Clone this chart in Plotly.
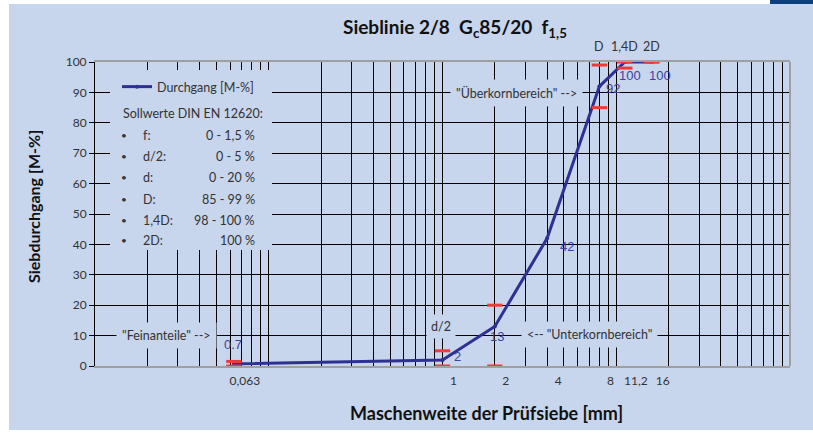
import math
import plotly.graph_objects as go

# ---------------- data ----------------
sieve_sizes = [0.063, 1, 2, 4, 8, 11.2, 16]
passing = [0.7, 2, 13, 42, 92, 100, 100]
tick_labels = ["0,063", "1", "2", "4", "8", "11,2", "16"]

spec_sizes = [0.063, 1, 2, 8, 11.2, 16]
spec_low = [0, 0, 0, 85, 98, 100]
spec_high = [1.5, 5, 20, 99, 100, 100]

key_sieve_names = ["D", "1,4D", "2D"]
key_sieve_sizes = [8, 11.2, 16]

spec_names = ["f:", "d/2:", "d:", "D:", "1,4D:", "2D:"]
spec_ranges = ["0 - 1,5 %", "0 - 5 %", "0 - 20 %", "85 - 99 %", "98 - 100 %", "100 %"]

# ---------------- style ----------------
W, H = 813, 439
L, R, T, B = 95, 23, 62, 73
PW, PH = W - L - R, H - T - B
BG = "#C7D5ED"
NAVY = "#2E3192"
LABEL = "#3E42A0"
RED = "#F03A3A"
TXT = "#333333"
FONT = "Lato, 'Open Sans', sans-serif"
SMALL = 12.5
# pixel offsets of the value labels relative to their points
label_dx = [-1, 15, 2, 20, 14, 5, 8]
label_dy = [19, 3, -10, -8, -2, -13, -13]


def px(x):
    return (x - L) / PW


def py(y):
    return (H - B - y) / PH


def note(text, x, y, xanchor="center", size=SMALL, **kw):
    d = dict(text=text, xref="paper", yref="paper", x=px(x), y=py(y),
             xanchor=xanchor, yanchor="middle", showarrow=False,
             font=dict(size=size, color=kw.pop("color", TXT)))
    d.update(kw)
    return d


fig = go.Figure()

fig.add_trace(go.Scatter(
    x=sieve_sizes, y=passing, mode="lines+markers",
    name="Durchgang [M-%]",
    line=dict(color=NAVY, width=3),
    marker=dict(size=4, color=NAVY),
    cliponaxis=False, xaxis="x", yaxis="y",
))

fig.add_trace(go.Scatter(
    x=spec_sizes + spec_sizes, y=spec_low + spec_high, mode="markers",
    marker=dict(symbol="line-ew", size=11, line=dict(color=RED, width=3)),
    showlegend=False, hoverinfo="skip", cliponaxis=False,
    xaxis="x2", yaxis="y",
))

shapes = [
    dict(type="rect", xref="paper", yref="paper", x0=px(9), x1=px(813), y0=py(430), y1=py(4),
         fillcolor=BG, line=dict(width=0), layer="below"),
    dict(type="rect", xref="paper", yref="paper", x0=px(770), x1=px(813), y0=py(4), y1=py(0),
         fillcolor="#0B3F7D", line=dict(width=0), layer="below"),
    dict(type="rect", xref="paper", yref="paper", x0=px(110), x1=px(272), y0=py(250), y1=py(70),
         fillcolor=BG, line=dict(width=0), layer="above"),
    dict(type="line", xref="paper", yref="paper", x0=1, x1=1, y0=0, y1=1,
         line=dict(color="#A0A0A0", width=2), layer="above"),
]

annotations = [
    note("<b>Sieblinie 2/8&nbsp;&nbsp;G<sub>c</sub>85/20&nbsp;&nbsp;f<sub>1,5</sub></b>",
         455, 28, size=19, color="#111111"),
    note("<b>Maschenweite der Prüfsiebe [mm]</b>", 486, 413, size=18, color="#111111"),
    note("<b>Siebdurchgang [M-%]</b>", 33, 207, size=16, color="#111111", textangle=-90),
    note("\"Feinanteile\" -->", 166, 335, bgcolor=BG, borderpad=5),
    note("d/2", 441, 326, bgcolor=BG, borderpad=4),
    note("<-- \"Unterkornbereich\"", 589, 334, bgcolor=BG, borderpad=5),
    note("\"Überkornbereich\" -->", 516, 93, bgcolor=BG, borderpad=5),
    note("Sollwerte DIN EN 12620:", 121, 113, xanchor="left"),
]

for v, p, dx, dy in zip(sieve_sizes, passing, label_dx, label_dy):
    annotations.append(dict(text=f"{p:g}", xref="x", yref="y", x=math.log10(v), y=p,
                            xshift=dx, yshift=dy, xanchor="center", yanchor="middle",
                            showarrow=False,
                            font=dict(family="Liberation Sans, Arial, sans-serif",
                                      size=13, color=LABEL)))

for name, size in zip(key_sieve_names, key_sieve_sizes):
    annotations.append(dict(text=name, xref="x", yref="paper", x=math.log10(size), y=py(47),
                            xanchor="center", yanchor="middle", showarrow=False,
                            font=dict(size=SMALL, color=TXT)))

row_y = [135, 156, 177, 199, 220, 240]
for name, rng, yy in zip(spec_names, spec_ranges, row_y):
    annotations.append(note("•", 124, yy, size=10))
    annotations.append(note(name, 141, yy, xanchor="left"))
    annotations.append(note(rng, 257, yy, xanchor="right"))

fig.update_layout(
    width=W, height=H,
    margin=dict(l=L, r=R, t=T, b=B),
    paper_bgcolor="white",
    plot_bgcolor="rgba(0,0,0,0)",
    font=dict(family=FONT, size=12, color=TXT),
    shapes=shapes,
    annotations=annotations,
    showlegend=True,
    legend=dict(x=px(117), y=py(72), xanchor="left", yanchor="top",
                bgcolor="rgba(0,0,0,0)", font=dict(size=SMALL, color=TXT)),
    xaxis=dict(type="log", range=[-2, 2], dtick="D1", showgrid=True, gridcolor="black",
               gridwidth=1, showticklabels=False, ticks="", zeroline=False,
               showline=True, linecolor="#A0A0A0", linewidth=2, mirror=True),
    xaxis2=dict(type="log", range=[-2, 2], overlaying="x", anchor="y", side="bottom",
                tickvals=sieve_sizes, ticktext=tick_labels, showgrid=False, ticks="",
                zeroline=False, showline=False, ticklabelshift=11, ticklabelstandoff=6,
                tickfont=dict(size=12, color=TXT)),
    yaxis=dict(range=[0, 100], dtick=10, showgrid=True, gridcolor="black", gridwidth=1,
               zeroline=False, showline=True, linecolor="black", linewidth=1,
               ticks="outside", ticklen=5, tickcolor="black",
               tickfont=dict(size=12, color=TXT)),
)

fig.write_html("out.html", config={"displayModeBar": False},
               post_script="document.body.style.margin='0';")
